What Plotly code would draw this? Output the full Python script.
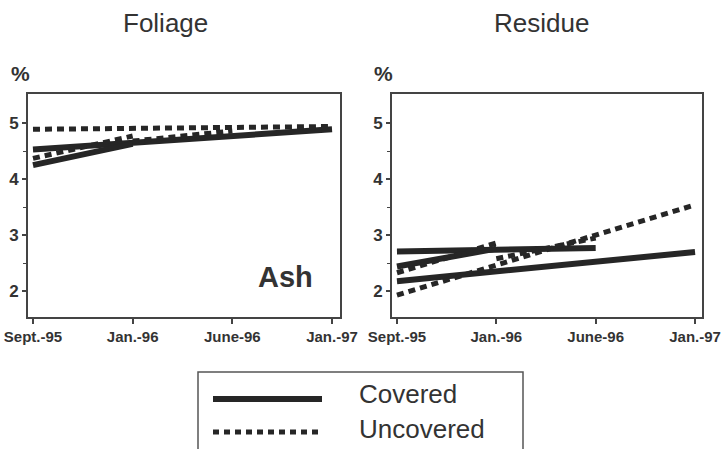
import plotly.graph_objects as go

# ---- data ----
date_labels = ["Sept.-95", "Jan.-96", "June-96", "Jan.-97"]
date_pos = [0, 1, 2, 3]

# Foliage (ash %)
fol_cov_a_x = [0, 3]
fol_cov_a_y = [4.53, 4.89]
fol_cov_b_x = [0, 1]
fol_cov_b_y = [4.25, 4.63]
fol_unc_a_x = [0, 3]
fol_unc_a_y = [4.89, 4.94]
fol_unc_b_x = [0, 1]
fol_unc_b_y = [4.37, 4.77]
fol_unc_c_x = [1, 2]
fol_unc_c_y = [4.68, 4.86]

# Residue (ash %)
res_cov_a_x = [0, 2]
res_cov_a_y = [2.71, 2.77]
res_cov_b_x = [0, 1]
res_cov_b_y = [2.44, 2.76]
res_cov_c_x = [0, 3]
res_cov_c_y = [2.18, 2.70]
res_unc_a_x = [0, 3]
res_unc_a_y = [1.93, 3.54]
res_unc_b_x = [0, 1]
res_unc_b_y = [2.33, 2.86]
res_unc_c_x = [1, 2]
res_unc_c_y = [2.58, 2.95]

W, H = 721, 449
LINE = "#262626"
TXT = "#333333"
AX = "#444444"
DOT = "7px,5px"

fig = go.Figure()

def add(x, y, covered, xa, ya):
    fig.add_trace(go.Scatter(
        x=x, y=y, mode="lines", xaxis=xa, yaxis=ya, showlegend=False,
        line=dict(color=LINE, width=6 if covered else 5,
                  dash="solid" if covered else DOT),
        hoverinfo="skip"))

add(fol_cov_a_x, fol_cov_a_y, True, "x", "y")
add(fol_cov_b_x, fol_cov_b_y, True, "x", "y")
add(fol_unc_a_x, fol_unc_a_y, False, "x", "y")
add(fol_unc_b_x, fol_unc_b_y, False, "x", "y")
add(fol_unc_c_x, fol_unc_c_y, False, "x", "y")

add(res_cov_a_x, res_cov_a_y, True, "x2", "y2")
add(res_cov_b_x, res_cov_b_y, True, "x2", "y2")
add(res_cov_c_x, res_cov_c_y, True, "x2", "y2")
add(res_unc_a_x, res_unc_a_y, False, "x2", "y2")
add(res_unc_b_x, res_unc_b_y, False, "x2", "y2")
add(res_unc_c_x, res_unc_c_y, False, "x2", "y2")

def px(x):
    return x / W

def py(y):
    return 1 - y / H

ydom = [py(317), py(94)]
tickfont_x = dict(family="Liberation Sans, Arial", size=15, color=TXT, weight="bold")
tickfont_y = dict(family="Liberation Sans, Arial", size=17, color=TXT, weight="bold")

def xaxis(dom, anchor, rng):
    return dict(domain=dom, anchor=anchor, range=rng, tickmode="array",
                tickvals=date_pos, ticktext=date_labels, ticks="outside",
                ticklen=5, tickwidth=1.5, tickcolor=AX, showline=True,
                linecolor=AX, linewidth=2, mirror=True, showgrid=False,
                zeroline=False, tickfont=tickfont_x, automargin=False)

def yaxis(anchor):
    return dict(domain=ydom, anchor=anchor, range=[1.54, 5.52],
                tickmode="array", tickvals=[2, 3, 4, 5], ticks="outside",
                ticklen=4, tickwidth=1.5, tickcolor=AX, showline=True,
                linecolor=AX, linewidth=2, mirror=True, showgrid=False,
                zeroline=False, tickfont=tickfont_y, automargin=False,
                minor=dict(tickvals=[2.5, 3.5, 4.5], ticks="outside",
                           ticklen=3, tickwidth=1, tickcolor=AX, showgrid=False))

fig.update_layout(
    width=W, height=H, margin=dict(l=0, r=0, t=0, b=0, pad=0, autoexpand=False),
    paper_bgcolor="white", plot_bgcolor="white",
    xaxis=xaxis([px(28), px(340)], "y", [-0.05, 3.08]),
    yaxis=yaxis("x"),
    xaxis2=xaxis([px(392), px(702)], "y2", [-0.05, 3.07]),
    yaxis2=yaxis("x2"),
    showlegend=False,
)

ann = []
font_title = dict(family="Liberation Sans, Arial", size=26, color=TXT)
ann.append(dict(text="Foliage", x=px(165), y=py(23), xref="paper", yref="paper",
                showarrow=False, font=font_title, xanchor="center", yanchor="middle"))
ann.append(dict(text="Residue", x=px(541), y=py(23), xref="paper", yref="paper",
                showarrow=False, font=font_title, xanchor="center", yanchor="middle"))
font_pct = dict(family="Liberation Sans, Arial", size=21, color=TXT, weight="bold")
ann.append(dict(text="%", x=px(20), y=py(74), xref="paper", yref="paper",
                showarrow=False, font=font_pct, xanchor="center", yanchor="middle"))
ann.append(dict(text="%", x=px(383), y=py(74), xref="paper", yref="paper",
                showarrow=False, font=font_pct, xanchor="center", yanchor="middle"))
ann.append(dict(text="Ash", x=px(285), y=py(277), xref="paper", yref="paper",
                showarrow=False, xanchor="center", yanchor="middle",
                font=dict(family="Liberation Sans, Arial", size=29, color=TXT, weight="bold")))
font_leg = dict(family="Liberation Sans, Arial", size=26, color=TXT)
ann.append(dict(text="Covered", x=px(357), y=py(394), xref="paper", yref="paper",
                showarrow=False, font=font_leg, xanchor="left", yanchor="middle"))
ann.append(dict(text="Uncovered", x=px(357), y=py(429), xref="paper", yref="paper",
                showarrow=False, font=font_leg, xanchor="left", yanchor="middle"))
fig.update_layout(annotations=ann)

shapes = [
    dict(type="rect", xref="paper", yref="paper", x0=px(198), x1=px(523),
         y0=py(372), y1=py(470), line=dict(color="#555555", width=1.5)),
    dict(type="line", xref="paper", yref="paper", x0=px(213), x1=px(322),
         y0=py(399), y1=py(399), line=dict(color=LINE, width=6)),
    dict(type="line", xref="paper", yref="paper", x0=px(213), x1=px(322),
         y0=py(432), y1=py(432), line=dict(color=LINE, width=5, dash="6px,5px")),
]
fig.update_layout(shapes=shapes)

fig.write_html("out.html", config={"displayModeBar": False},
               post_script="document.body.style.margin='0';document.body.style.overflow='hidden';")
